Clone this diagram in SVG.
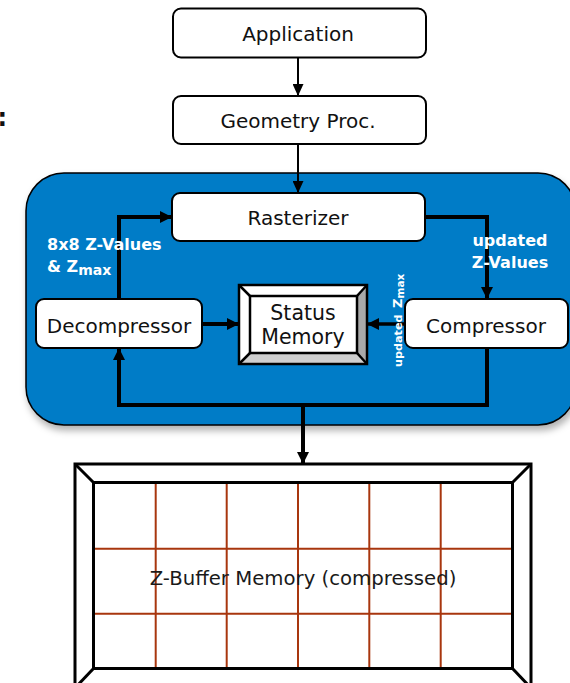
<svg xmlns="http://www.w3.org/2000/svg" width="570" height="683" viewBox="0 0 570 683">
<style>
.box{fill:#fff;stroke:#000;stroke-width:2}
.lbl{font-family:"DejaVu Sans",sans-serif;font-size:20px;fill:#111;text-anchor:middle}
.wl{font-family:"DejaVu Sans",sans-serif;font-weight:bold;fill:#fff}
.thin{fill:none;stroke:#000;stroke-width:2}
.thick{fill:none;stroke:#000;stroke-width:4;stroke-linejoin:miter}
.bev{stroke:#000;stroke-width:2.5;stroke-linejoin:miter}
.grid{stroke:#a8360e;stroke-width:2}
</style>
<defs>
<marker id="ah" markerUnits="userSpaceOnUse" markerWidth="12" markerHeight="11" refX="12" refY="5.5" orient="auto">
<path d="M0,0 L12,5.5 L0,11 z" fill="#000"/>
</marker>
<marker id="ahb" markerUnits="userSpaceOnUse" markerWidth="12" markerHeight="12" refX="12" refY="6" orient="auto">
<path d="M0,0 L12,6 L0,12 z" fill="#000"/>
</marker>
<filter id="sh" x="-5%" y="-5%" width="115%" height="120%">
<feDropShadow dx="2" dy="5" stdDeviation="3.5" flood-color="#000" flood-opacity="0.3"/>
</filter>
</defs>
<rect width="570" height="683" fill="#fff"/>
<text x="-2.5" y="126" style="font-family:'DejaVu Sans',sans-serif;font-weight:bold;font-size:24px;fill:#111">:</text>

<g id="gpu-block">
<rect x="26" y="173" width="550" height="252" rx="38" fill="#067bc7" stroke="#000" stroke-width="1.5" filter="url(#sh)"/>
</g>

<g id="application">
<rect class="box" x="173" y="8.5" width="253" height="49" rx="8"/>
<text class="lbl" x="298" y="41">Application</text>
</g>
<g id="geometry">
<rect class="box" x="173" y="96" width="253" height="48" rx="8"/>
<text class="lbl" x="298" y="127.5">Geometry Proc.</text>
</g>
<g id="rasterizer">
<rect class="box" x="172" y="193" width="253" height="48" rx="8"/>
<text class="lbl" x="298" y="224.5">Rasterizer</text>
</g>
<g id="decompressor">
<rect class="box" x="36" y="299" width="166" height="49" rx="8"/>
<text class="lbl" x="119" y="332.5">Decompressor</text>
</g>
<g id="compressor">
<rect class="box" x="405" y="299" width="163" height="49" rx="8"/>
<text class="lbl" x="486" y="332.5">Compressor</text>
</g>
<g id="status-memory">
<rect x="239" y="285" width="128" height="79" fill="#fff"/>
<polygon points="367,285 367,364 357,353 357,296" fill="#a9a9a9"/>
<polygon points="239,364 367,364 357,353 250,353" fill="#cfcfcf"/>
<line class="bev" x1="239" y1="285" x2="250" y2="296"/>
<line class="bev" x1="367" y1="285" x2="357" y2="296"/>
<line class="bev" x1="239" y1="364" x2="250" y2="353"/>
<line class="bev" x1="367" y1="364" x2="357" y2="353"/>
<rect x="239" y="285" width="128" height="79" fill="none" class="bev"/>
<rect x="250" y="296" width="107" height="57" fill="#fff" class="bev"/>
<text class="lbl" x="303" y="320" style="font-size:20.5px">Status</text>
<text class="lbl" x="303" y="344" style="font-size:20.5px">Memory</text>
</g>
<g id="zbuffer">
<rect x="75" y="464" width="456" height="224" fill="#fff" stroke="#000" stroke-width="3"/>
<g class="grid">
<line x1="155.7" y1="482.5" x2="155.7" y2="668.5"/>
<line x1="226.7" y1="482.5" x2="226.7" y2="668.5"/>
<line x1="298" y1="482.5" x2="298" y2="668.5"/>
<line x1="369.3" y1="482.5" x2="369.3" y2="668.5"/>
<line x1="440.7" y1="482.5" x2="440.7" y2="668.5"/>
<line x1="93.5" y1="548.7" x2="512.5" y2="548.7"/>
<line x1="93.5" y1="613.7" x2="512.5" y2="613.7"/>
</g>
<rect x="93.5" y="482.5" width="419" height="186" fill="none" stroke="#000" stroke-width="3"/>
<g stroke="#000" stroke-width="3">
<line x1="75" y1="464" x2="93.5" y2="482.5"/>
<line x1="531" y1="464" x2="512.5" y2="482.5"/>
<line x1="75" y1="688" x2="93.5" y2="668.5"/>
<line x1="531" y1="688" x2="512.5" y2="668.5"/>
</g>
<text class="lbl" x="303" y="585" style="font-size:19.7px;fill:#1a1a1a">Z-Buffer Memory (compressed)</text>
</g>

<g id="connectors">
<line class="thin" x1="298" y1="57.5" x2="298" y2="96" marker-end="url(#ah)"/>
<line class="thin" x1="298" y1="144" x2="298" y2="193" marker-end="url(#ah)"/>
<path class="thick" d="M119,299 V217 H172" marker-end="url(#ahb)"/>
<path class="thick" d="M425,217 H487 V299" marker-end="url(#ahb)"/>
<path class="thick" d="M202,324 H239" marker-end="url(#ahb)"/>
<path class="thick" d="M405,324 H367" style="stroke-width:3.5" marker-end="url(#ahb)"/>
<path class="thick" d="M487,348 V405 H119 V348" marker-end="url(#ahb)"/>
<path class="thick" d="M303,405 V464" marker-end="url(#ahb)"/>
</g>

<g id="labels">
<text class="wl" x="47" y="250" style="font-size:16px">8x8 Z-Values</text>
<text class="wl" x="47" y="271.7" style="font-size:16px">&amp; Z<tspan dy="3" style="font-size:14px">max</tspan></text>
<text class="wl" x="510" y="245.7" text-anchor="middle" style="font-size:16px">updated</text>
<text class="wl" x="510" y="267.7" text-anchor="middle" style="font-size:16px">Z-Values</text>
<g transform="translate(401.5,367) rotate(-90)">
<text class="wl" x="0" y="0" style="font-size:11.2px">updated</text>
<text class="wl" x="59" y="0" style="font-size:13px">Z<tspan dy="2" style="font-size:10.5px">max</tspan></text>
</g>
</g>
</svg>
